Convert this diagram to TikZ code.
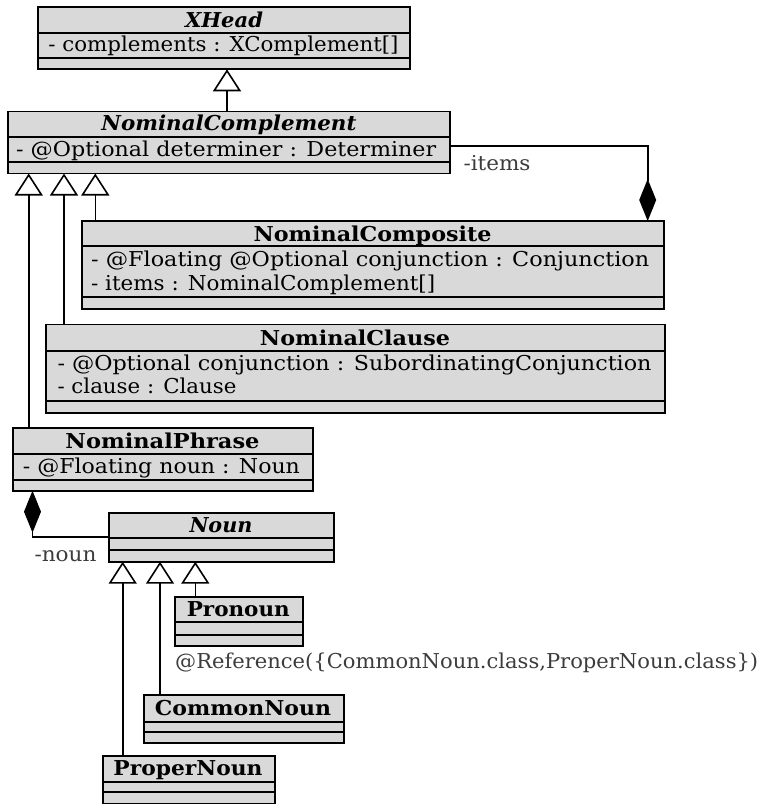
\documentclass[tikz,border=0pt]{standalone}
\usepackage{fontspec}
\usepackage{graphicx}
\setmainfont{DejaVu Serif}
\usetikzlibrary{arrows.meta}
\definecolor{boxgray}{RGB}{217,217,217}
\definecolor{lblgray}{RGB}{60,60,60}
\newcommand{\fitw}[2]{\resizebox{#1pt}{\height}{#2}}
\newcommand{\umlbox}[7]{%
  \node[cls, minimum width=#4pt, minimum height=#5pt, anchor=north west] (#1) at (#2,#3) {};
  \draw[sepline] ([yshift=-#6pt]#1.north west) -- ([yshift=-#6pt]#1.north east);
  \draw[sepline] ([yshift=-#7pt]#1.north west) -- ([yshift=-#7pt]#1.north east);}
\tikzset{
  cls/.style={draw, fill=boxgray, line width=1.9pt, inner sep=0pt, outer sep=0pt},
  sepline/.style={line width=1.7pt},
  txt/.style={inner sep=0pt, font=\fontsize{20.5pt}{24pt}\selectfont},
  ttl/.style={txt, anchor=base},
  attr/.style={txt, anchor=base west},
  lbl/.style={txt, anchor=base west, text=lblgray},
  inherit/.style={draw, line width=1.6pt, -{Triangle[open, length=22pt, width=28pt, line width=1.6pt]}},
  compos/.style={draw, line width=1.6pt, -{Diamond[length=42pt, width=17pt]}},
}
\begin{document}
\begin{tikzpicture}[x=1pt,y=-1pt]
\useasboundingbox (0,0) rectangle (759,804);
% class boxes
\umlbox{xhead}{38}{7.3}{372}{62}{26}{51}
\umlbox{nc}{8}{111.5}{442}{62}{25.2}{50.8}
\umlbox{ncomp}{81.7}{221}{582.3}{88}{25}{75.7}
\umlbox{nclause}{46}{324.5}{619}{88.2}{26.2}{76.2}
\umlbox{nphrase}{12.7}{428.3}{300}{62.4}{25.7}{51.7}
\umlbox{noun}{109.3}{512.7}{225}{49}{25.6}{37.3}
\umlbox{pronoun}{175}{596.7}{127.7}{49.3}{25.6}{38.3}
\umlbox{common}{144}{695}{200}{48.3}{26.7}{37.3}
\umlbox{proper}{103.3}{756}{171.7}{48}{25.7}{36.3}
% texts
\node[ttl] (xhead-t) at (224,27.3) {\fitw{78}{\bfseries\itshape XHead}};
\node[attr] (xhead-a) at (48.3,51.7) {\fitw{350}{- complements : XComplement[]}};
\node[ttl] (nc-t) at (229,130) {\fitw{255}{\bfseries\itshape NominalComplement}};
\node[attr] (nc-a) at (16,156.7) {\fitw{420}{- @Optional determiner : Determiner}};
\node[ttl] (ncomp-t) at (372.5,241) {\fitw{238}{\bfseries NominalComposite}};
\node[attr] (ncomp-a1) at (91,266.7) {\fitw{558}{- @Floating @Optional conjunction : Conjunction}};
\node[attr] (ncomp-a2) at (91,290) {\fitw{344}{- items : NominalComplement[]}};
\node[ttl] (nclause-t) at (355,345) {\fitw{190}{\bfseries NominalClause}};
\node[attr] (nclause-a1) at (57.3,370) {\fitw{594}{- @Optional conjunction : SubordinatingConjunction}};
\node[attr] (nclause-a2) at (57.3,393.3) {\fitw{179}{- clause : Clause}};
\node[ttl] (nphrase-t) at (162.5,448.3) {\fitw{194}{\bfseries NominalPhrase}};
\node[attr] (nphrase-a) at (22.7,473.3) {\fitw{277}{- @Floating noun : Noun}};
\node[ttl] (noun-t) at (221,532.7) {\fitw{63}{\bfseries\itshape Noun}};
\node[ttl] (pronoun-t) at (238.3,616.7) {\fitw{103}{\bfseries Pronoun}};
\node[ttl] (common-t) at (243,715) {\fitw{176}{\bfseries CommonNoun}};
\node[ttl] (proper-t) at (188,775) {\fitw{149}{\bfseries ProperNoun}};
% labels
\node[lbl] (items-l) at (463.3,170.7) {\fitw{67}{-items}};
\node[lbl] (noun-l) at (34.3,561.7) {\fitw{62}{-noun}};
\node[lbl] (ref-l) at (175,668) {\fitw{583}{@Reference(\{CommonNoun.class,ProperNoun.class\})}};
% inheritance connectors
\coordinate (c1) at ([xshift=13.6pt]ncomp.north west);
\coordinate (c2) at ([xshift=18pt]nclause.north west);
\coordinate (c3) at ([xshift=16pt]nphrase.north west);
\coordinate (c4) at ([xshift=20.3pt]pronoun.north west);
\coordinate (c5) at ([xshift=16pt]common.north west);
\coordinate (c6) at ([xshift=19.4pt]proper.north west);
\draw[inherit] ([xshift=-2pt]nc.north) -- ([xshift=3pt]xhead.south);
\draw[inherit] (c1) -- (c1 |- nc.south);
\draw[inherit] (c2) -- (c2 |- nc.south);
\draw[inherit] (c3) -- (c3 |- nc.south);
\draw[inherit] (c4) -- (c4 |- noun.south);
\draw[inherit] (c5) -- (c5 |- noun.south);
\draw[inherit] (c6) -- (c6 |- noun.south);
% composition connectors
\draw[compos] ([yshift=-3.5pt]nc.east) -| ([xshift=-16.3pt]ncomp.north east);
\draw[compos] (noun.west) -| ([xshift=19.8pt]nphrase.south west);
\end{tikzpicture}
\end{document}
